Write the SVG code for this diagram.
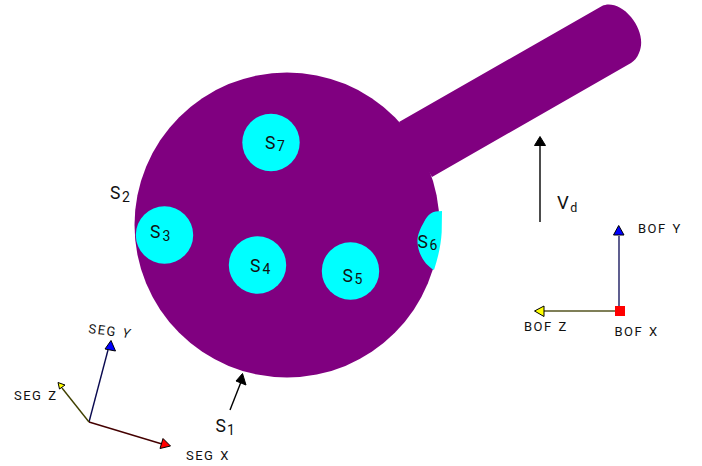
<svg xmlns="http://www.w3.org/2000/svg" width="702" height="466" viewBox="0 0 702 466">
<style>
text{font-family:Roboto,"Liberation Sans",sans-serif;fill:#111}
.s{font-size:17.5px}
.sub{font-size:14px}
.v{font-size:18.5px}
.d{font-size:12.5px}
.ax{font-size:13px;letter-spacing:1.5px;word-spacing:1px}
.dot{fill:#0ff}
.l{fill:none;stroke-width:1.4}
.h{stroke:#000;stroke-width:1;stroke-linejoin:round}
</style>
<g id="body">
<path fill="#800080" d="M399 122L602 6C610 2 622 6 631 17C640 28 644 42 639 53C637 58 634 61 631 63L432 177Z"/>
<circle cx="287" cy="225" r="152.500" fill="#800080"/>
</g>
<g id="s3"><circle class="dot" cx="164.500" cy="235" r="28.700"/><text class="s" x="150" y="238">S<tspan class="sub" dx="2" dy="3">3</tspan></text></g>
<g id="s4"><circle class="dot" cx="257.500" cy="265" r="28.700"/><text class="s" x="250" y="272">S<tspan class="sub" dx="2" dy="2">4</tspan></text></g>
<g id="s5"><circle class="dot" cx="350.500" cy="271" r="28.700"/><text class="s" x="342.500" y="282">S<tspan class="sub" dx="1.500" dy="2">5</tspan></text></g>
<g id="s6"><path class="dot" d="M442 211C432 211 428 214 424 222C420 229 417 236 417.500 242C418 254 425 265 434 270C438 258 441 245 441.700 232Z"/><text class="s" x="417.500" y="248">S<tspan class="sub" dx="1.500" dy="2">6</tspan></text></g>
<g id="s7"><circle class="dot" cx="271" cy="142.500" r="28.700"/><text class="s" x="265" y="149">S<tspan class="sub" dx="1.500" dy="2">7</tspan></text></g>
<g id="labels">
<text class="s" x="110" y="199">S<tspan class="sub" dx="1.500" dy="3">2</tspan></text>
<text class="s" x="215.500" y="432">S<tspan class="sub" dx="1" dy="3">1</tspan></text>
<text class="v" x="557" y="209">V<tspan class="d" dx="1.500" dy="3">d</tspan></text>
<text class="ax" x="14" y="400">SEG Z</text>
<text class="ax" transform="translate(88 333) rotate(7)">SEG <tspan font-style="italic">Y</tspan></text>
<text class="ax" x="186" y="460">SEG X</text>
<text class="ax" x="638" y="232.500">BOF Y</text>
<text class="ax" x="524" y="330.500">BOF Z</text>
<text class="ax" x="614.500" y="336">BOF X</text>
</g>
<g id="connectors">
<path class="l" stroke="#000" d="M230 410L241 382"/><path class="h" fill="#000" d="M242.500 373.500L246 385L236 381Z"/>
<path class="l" stroke="#000" d="M540 222L540 146"/><path class="h" fill="#000" d="M540 136.500L545.500 145.500L534.500 145.500Z"/>
<path class="l" stroke="#0a0a50" d="M89 422L108 350"/><path class="h" fill="#00f" d="M111 340.500L115.500 351L105 349Z"/>
<path class="l" stroke="#404000" stroke-width="1" d="M89 422L62 388"/><path class="h" fill="#ff0" d="M58 382.500L65 385L59.500 389Z"/>
<path class="l" stroke="#400" d="M89 422L162 444"/><path class="h" fill="#f00" d="M170.500 446L160 448.500L163 438.500Z"/>
<path class="l" stroke="#1a1a60" d="M619 306L619 236"/><path class="h" fill="#00f" d="M618.700 225.500L624 235L613.500 235Z"/>
<path class="l" stroke="#555520" d="M616 311L544 311"/><path class="h" fill="#ff0" d="M534.500 311L544 306L544 316.500Z"/>
<rect x="615" y="306" width="10" height="10" fill="#f00"/>
</g>
</svg>
